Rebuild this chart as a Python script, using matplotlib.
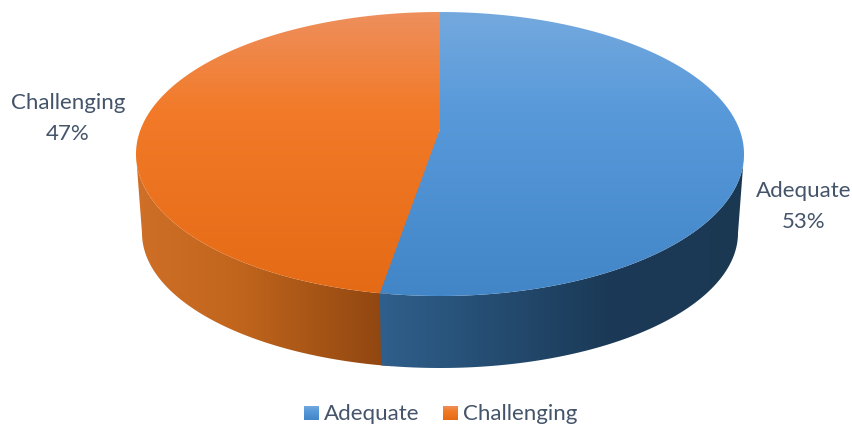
import numpy as np
from matplotlib import pyplot as plt
from matplotlib.colors import LinearSegmentedColormap
from matplotlib.patches import Polygon

categories = ["Adequate", "Challenging"]
shares = [53, 47]
top_colors = [["#74A9DE", "#5899DA", "#4286C7"], ["#EE8F5C", "#F27A28", "#E56A15"]]
side_colors = [["#2F5F8C", "#1B3A57", "#1C3853"], ["#CF6F28", "#C2661D", "#8E4510"]]
top_stops = [0, 0.35, 1]
side_stops = [[0, 0.62, 1], [0, 0.38, 1]]
text_color = "#44546A"

# top disc and the smaller bottom disc (the picture has perspective)
cx, cy = 440, 155
rx, ry = 304, 142
apex_y = 130
bottom_cy = 234
bottom_rx, bottom_ry = 298, 135
tilt = 1.0032


def rim(start, stop, bottom=False):
    t = np.radians(np.linspace(start, stop, 200))
    if bottom:
        return np.column_stack([cx + bottom_rx * np.sin(t), bottom_cy - bottom_ry * np.cos(t)])
    return np.column_stack([cx + rx * np.sin(t), cy - ry * np.cos(t)])


def gradient(ax, clip, colors, stops, extent, horizontal=False):
    cmap = LinearSegmentedColormap.from_list("g", list(zip(stops, colors)))
    grad = np.linspace(0, 1, 256)
    grad = grad.reshape(1, -1) if horizontal else grad.reshape(-1, 1)
    im = ax.imshow(grad, cmap=cmap, extent=extent, aspect="auto", origin="upper", zorder=2)
    patch = Polygon(clip, closed=True, transform=ax.transData, fc="none", ec="none")
    ax.add_patch(patch)
    im.set_clip_path(patch)


fig, ax = plt.subplots(figsize=(8.53, 4.27), dpi=100)
fig.subplots_adjust(0, 0, 1, 1)
ax.axis("off")

split = 360 * shares[0] / sum(shares) * tilt
split_x = rim(split, split)[0, 0]
floor = bottom_cy + bottom_ry

# sides, only the part of the rim facing the viewer
# orange runs a little under the blue so no white seam shows
pts = np.vstack([rim(split - 2, 270), rim(split - 2, 270, True)[::-1]])
gradient(ax, pts, side_colors[1], side_stops[1], (cx - rx, split_x + 12, floor, cy - 10), horizontal=True)
pts = np.vstack([rim(90, split), rim(90, split, True)[::-1]])
gradient(ax, pts, side_colors[0], side_stops[0], (split_x, cx + rx, floor, cy - 10), horizontal=True)

# top faces
pts = np.vstack([[(cx, apex_y)], rim(split - 2, 360)])
gradient(ax, pts, top_colors[1], top_stops, (cx - rx, cx + rx, cy + ry, cy - ry))
pts = np.vstack([[(cx, apex_y)], rim(0, split)])
gradient(ax, pts, top_colors[0], top_stops, (cx - rx, cx + rx, cy + ry, cy - ry))

# data labels, each line placed on its own for the wide spacing
ax.text(803.5, 191, categories[0], ha="center", va="center", fontsize=16, family="Lato", color=text_color)
ax.text(803.5, 222, f"{shares[0]}%", ha="center", va="center", fontsize=16, family="Lato", color=text_color)
ax.text(68, 103, categories[1], ha="center", va="center", fontsize=16, family="Lato", color=text_color)
ax.text(68, 134, f"{shares[1]}%", ha="center", va="center", fontsize=16, family="Lato", color=text_color)

# legend
legend_x = [304, 443]
for i, name in enumerate(categories):
    x = legend_x[i]
    box = [(x, 407), (x + 15, 407), (x + 15, 421), (x, 421)]
    gradient(ax, box, top_colors[i], top_stops, (x, x + 15, 421, 407))
    ax.text(x + 20, 414, name, ha="left", va="center", fontsize=16, family="Lato", color=text_color)

ax.set_xlim(0, 853)
ax.set_ylim(427, 0)
fig.savefig("out.png", dpi=100)
